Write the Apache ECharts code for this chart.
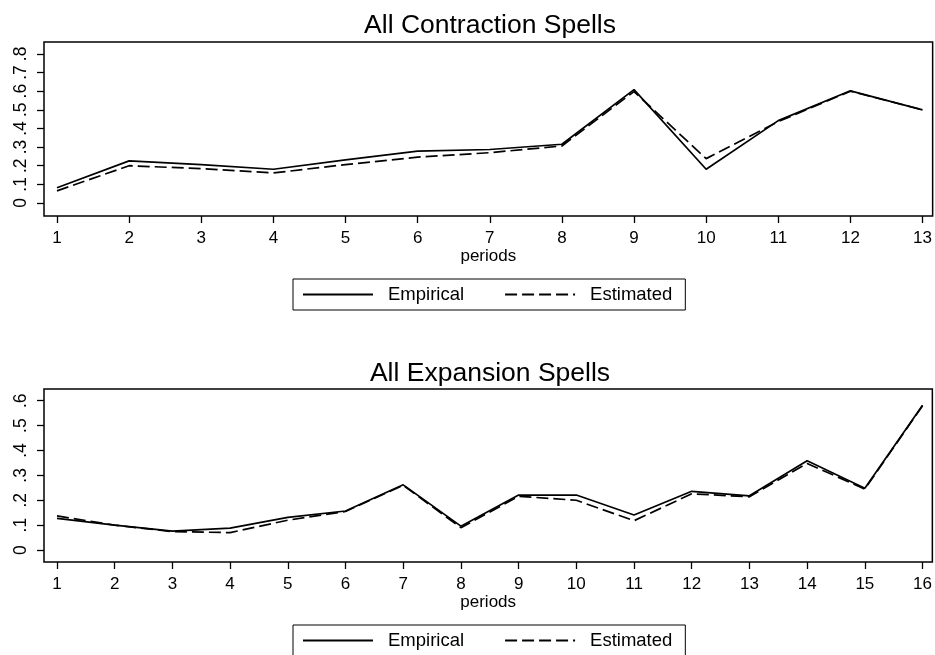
<!DOCTYPE html>
<html>
<head>
<meta charset="utf-8">
<script src="https://cdn.jsdelivr.net/npm/echarts@6/dist/echarts.min.js"></script>
<style>html,body{margin:0;padding:0;background:#fff}#c{width:935px;height:655px}</style>
</head>
<body>
<div id="c"></div>
<script>
// ---- data ----
var contractionPeriods = [1,2,3,4,5,6,7,8,9,10,11,12,13];
var contractionEmpirical = [0.082, 0.226, 0.206, 0.181, 0.231, 0.278, 0.287, 0.315, 0.608, 0.181, 0.442, 0.602, 0.500];
var contractionEstimated = [0.065, 0.200, 0.184, 0.161, 0.206, 0.246, 0.270, 0.306, 0.598, 0.238, 0.437, 0.600, 0.500];

var expansionPeriods = [1,2,3,4,5,6,7,8,9,10,11,12,13,14,15,16];
var expansionEmpirical = [0.127, 0.100, 0.076, 0.088, 0.131, 0.157, 0.262, 0.096, 0.221, 0.221, 0.141, 0.236, 0.218, 0.359, 0.248, 0.582];
var expansionEstimated = [0.137, 0.100, 0.074, 0.070, 0.120, 0.155, 0.260, 0.090, 0.216, 0.200, 0.118, 0.226, 0.214, 0.348, 0.245, 0.580];

var contractionYTicks = [0, 0.1, 0.2, 0.3, 0.4, 0.5, 0.6, 0.7, 0.8];
var contractionYLabels = ['0', '.1', '.2', '.3', '.4', '.5', '.6', '.7', '.8'];
var expansionYTicks = [0, 0.1, 0.2, 0.3, 0.4, 0.5, 0.6];
var expansionYLabels = ['0', '.1', '.2', '.3', '.4', '.5', '.6'];

var titles = ['All Contraction Spells', 'All Expansion Spells'];
var seriesNames = ['Empirical', 'Estimated'];
var xName = 'periods';

// ---- chart ----
var FONT = "'Liberation Sans', Arial, Helvetica, sans-serif";
function pairs(xs, ys) { return xs.map(function (x, i) { return [x, ys[i]]; }); }
function labelFor(ticks, labels) {
  return function (v) {
    for (var i = 0; i < ticks.length; i++) if (Math.abs(ticks[i] - v) < 1e-6) return labels[i];
    return '';
  };
}
function xAxis(idx, min, max, ticks) {
  return {
    type: 'value', gridIndex: idx, min: min, max: max, position: 'bottom',
    name: xName, nameLocation: 'middle', nameGap: 32,
    nameTextStyle: { fontFamily: FONT, fontSize: 17, color: '#000' },
    axisLine: { show: false, onZero: false },
    axisTick: { show: true, inside: false, length: 7, customValues: ticks, lineStyle: { color: '#000', width: 1.3 } },
    axisLabel: { show: true, customValues: ticks, margin: 14, fontFamily: FONT, fontSize: 17, color: '#000' },
    splitLine: { show: false }
  };
}
function yAxis(idx, min, max, ticks, labels) {
  return {
    type: 'value', gridIndex: idx, min: min, max: max, position: 'left',
    axisLine: { show: false, onZero: false },
    axisTick: { show: true, inside: false, length: 7, customValues: ticks, lineStyle: { color: '#000', width: 1.3 } },
    axisLabel: { show: true, customValues: ticks, rotate: 90, margin: 14, fontFamily: FONT, fontSize: 17.5, color: '#000',
                 formatter: labelFor(ticks, labels) },
    splitLine: { show: false }
  };
}
function line(name, idx, data, dashed) {
  return {
    type: 'line', name: name, xAxisIndex: idx, yAxisIndex: idx, data: data,
    symbol: 'none', showSymbol: false, animation: false, silent: true,
    lineStyle: { color: '#000', width: 1.7, type: dashed ? [12, 5] : 'solid' },
    itemStyle: { color: '#000' }
  };
}
function legend(top) {
  return {
    show: true, left: 293, top: top, orient: 'horizontal',
    data: seriesNames, selectedMode: false,
    itemWidth: 70, itemHeight: 18, itemGap: 40,
    padding: [6, 13, 6, 9],
    itemStyle: { opacity: 0 },
    borderColor: '#000', borderWidth: 1, backgroundColor: '#fff',
    textStyle: { fontFamily: FONT, fontSize: 18.5, color: '#000', padding: [0, 0, 0, 10] }
  };
}

var chart = echarts.init(document.getElementById('c'), null, { renderer: 'canvas' });
chart.setOption({
  animation: false,
  backgroundColor: '#fff',
  title: [
    { text: titles[0], left: 490, textAlign: 'center', top: 12, padding: 0,
      textStyle: { fontFamily: FONT, fontSize: 26.5, fontWeight: 'normal', color: '#000' } },
    { text: titles[1], left: 490, textAlign: 'center', top: 360, padding: 0,
      textStyle: { fontFamily: FONT, fontSize: 26.5, fontWeight: 'normal', color: '#000' } }
  ],
  legend: [legend(279), legend(625)],
  grid: [
    { left: 44, top: 42, width: 889, height: 174, show: true, borderColor: '#000', borderWidth: 1.5, backgroundColor: 'transparent' },
    { left: 44, top: 389, width: 889, height: 173, show: true, borderColor: '#000', borderWidth: 1.5, backgroundColor: 'transparent' }
  ],
  xAxis: [xAxis(0, 0.82, 13.14, contractionPeriods), xAxis(1, 0.775, 16.17, expansionPeriods)],
  yAxis: [yAxis(0, -0.070, 0.864, contractionYTicks, contractionYLabels),
          yAxis(1, -0.048, 0.647, expansionYTicks, expansionYLabels)],
  series: [
    line(seriesNames[0], 0, pairs(contractionPeriods, contractionEmpirical), false),
    line(seriesNames[1], 0, pairs(contractionPeriods, contractionEstimated), true),
    line(seriesNames[0], 1, pairs(expansionPeriods, expansionEmpirical), false),
    line(seriesNames[1], 1, pairs(expansionPeriods, expansionEstimated), true)
  ]
});
</script>
</body>
</html>
